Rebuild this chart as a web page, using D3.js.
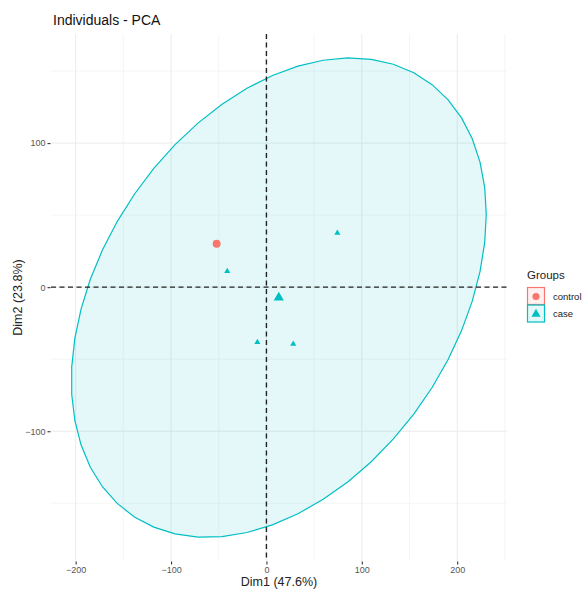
<!DOCTYPE html>
<html>
<head>
<meta charset="utf-8">
<script src="https://cdn.jsdelivr.net/npm/d3@7"></script>
<style>
  body { margin: 0; background: #fff; }
  svg { font-family: "Liberation Sans", Arial, sans-serif; }
</style>
</head>
<body>
<div id="chart"></div>
<script>
// individuals coordinates on the first two dimensions
var dim1 = [-52.2, -41.1, 74.4, -9.5, 28.1];
var dim2 = [30.2, 11.1, 37.6, -38.3, -39.4];
var groupOf = ["control", "case", "case", "case", "case"];

var groups = ["control", "case"];
var groupColors = ["#F8766D", "#00BFC4"];
var xTicks = [-200, -100, 0, 100, 200];
var yTicks = [-100, 0, 100];
var xMinor = [-250, -150, -50, 50, 150, 250];
var yMinor = [-150, -50, 50, 150];
var xTitle = "Dim1 (47.6%)";
var yTitle = "Dim2 (23.8%)";
var chartTitle = "Individuals - PCA";
var ellipseLevel = 0.95;

var width = 582, height = 594;
var panel = {left: 51, right: 507, top: 34, bottom: 561};

var points = dim1.map(function(d, i) { return {x: d, y: dim2[i], group: groupOf[i]}; });

var color = d3.scaleOrdinal().domain(groups).range(groupColors);
var shape = d3.scaleOrdinal().domain(groups).range([d3.symbolCircle, d3.symbolTriangle]);

// group means and normal ellipses (like stat_ellipse type = "norm")
var stats = groups.map(function(g) {
	var pts = points.filter(function(p) { return p.group == g; });
	var n = pts.length;
	var mx = d3.mean(pts, function(p) { return p.x; });
	var my = d3.mean(pts, function(p) { return p.y; });
	var ell = null;
	if (n >= 3) {
		var sxx = d3.sum(pts, function(p) { return (p.x - mx) * (p.x - mx); }) / (n - 1);
		var syy = d3.sum(pts, function(p) { return (p.y - my) * (p.y - my); }) / (n - 1);
		var sxy = d3.sum(pts, function(p) { return (p.x - mx) * (p.y - my); }) / (n - 1);
		var d2 = n - 1;
		var qf = (d2 / 2) * (Math.pow(1 - ellipseLevel, -2 / d2) - 1);
		var r = Math.sqrt(2 * qf);
		var a = Math.sqrt(sxx), b = sxy / a, c = Math.sqrt(syy - b * b);
		ell = d3.range(52).map(function(k) {
			var t = k / 51 * 2 * Math.PI;
			return [mx + r * a * Math.cos(t), my + r * (b * Math.cos(t) + c * Math.sin(t))];
		});
	}
	return {group: g, mx: mx, my: my, ellipse: ell};
});

var allX = points.map(function(p) { return p.x; });
var allY = points.map(function(p) { return p.y; });
stats.forEach(function(s) {
	if (s.ellipse) s.ellipse.forEach(function(e) { allX.push(e[0]); allY.push(e[1]); });
});
var xExt = d3.extent(allX), yExt = d3.extent(allY);
var xPad = (xExt[1] - xExt[0]) * 0.05, yPad = (yExt[1] - yExt[0]) * 0.05;

var xScale = d3.scaleLinear()
	.domain([xExt[0] - xPad, xExt[1] + xPad])
	.range([panel.left, panel.right]);
var yScale = d3.scaleLinear()
	.domain([yExt[0] - yPad, yExt[1] + yPad])
	.range([panel.bottom, panel.top]);

var svg = d3.select("#chart").append("svg")
	.attr("width", width)
	.attr("height", height);

// grid
var grid = svg.append("g");
grid.selectAll(".xminor").data(xMinor.filter(function(v) { return v > xScale.domain()[0] && v < xScale.domain()[1]; }))
	.enter().append("line")
	.attr("x1", xScale).attr("x2", xScale)
	.attr("y1", panel.top).attr("y2", panel.bottom)
	.attr("stroke", "#f0f0f0").attr("stroke-width", 0.7);
grid.selectAll(".yminor").data(yMinor)
	.enter().append("line")
	.attr("y1", yScale).attr("y2", yScale)
	.attr("x1", panel.left).attr("x2", panel.right)
	.attr("stroke", "#f0f0f0").attr("stroke-width", 0.7);
grid.selectAll(".xmajor").data(xTicks)
	.enter().append("line")
	.attr("x1", xScale).attr("x2", xScale)
	.attr("y1", panel.top).attr("y2", panel.bottom)
	.attr("stroke", "#ebebeb").attr("stroke-width", 1);
grid.selectAll(".ymajor").data(yTicks)
	.enter().append("line")
	.attr("y1", yScale).attr("y2", yScale)
	.attr("x1", panel.left).attr("x2", panel.right)
	.attr("stroke", "#ebebeb").attr("stroke-width", 1);

// ellipses
var line = d3.line()
	.x(function(d) { return xScale(d[0]); })
	.y(function(d) { return yScale(d[1]); });
svg.selectAll(".ellipse").data(stats.filter(function(s) { return s.ellipse; }))
	.enter().append("path")
	.attr("d", function(s) { return line(s.ellipse) + "Z"; })
	.attr("fill", function(s) { return color(s.group); })
	.attr("fill-opacity", 0.1)
	.attr("stroke", function(s) { return color(s.group); })
	.attr("stroke-width", 1.2);

// reference lines
svg.append("line")
	.attr("x1", xScale(0)).attr("x2", xScale(0))
	.attr("y1", panel.top).attr("y2", panel.bottom)
	.attr("stroke", "#222").attr("stroke-width", 1.4).attr("stroke-dasharray", "5,3.5");
svg.append("line")
	.attr("y1", yScale(0)).attr("y2", yScale(0))
	.attr("x1", panel.left).attr("x2", panel.right)
	.attr("stroke", "#222").attr("stroke-width", 1.4).attr("stroke-dasharray", "5,3.5");

// individuals
svg.selectAll(".pt").data(points)
	.enter().append("path")
	.attr("transform", function(p) { return "translate(" + xScale(p.x) + "," + yScale(p.y) + ")"; })
	.attr("d", function(p) { return d3.symbol().type(shape(p.group)).size(16)(); })
	.attr("fill", function(p) { return color(p.group); });

// group means
svg.selectAll(".mean").data(stats)
	.enter().append("path")
	.attr("transform", function(s) { return "translate(" + xScale(s.mx) + "," + yScale(s.my) + ")"; })
	.attr("d", function(s) { return d3.symbol().type(shape(s.group)).size(s.group == "case" ? 45 : 50)(); })
	.attr("fill", function(s) { return color(s.group); });

// axes
var xAxis = d3.axisBottom(xScale).tickValues(xTicks).tickSize(3).tickPadding(2);
var yAxis = d3.axisLeft(yScale).tickValues(yTicks).tickSize(3).tickPadding(2);
var gx = svg.append("g").attr("transform", "translate(0," + (panel.bottom + 0.5) + ")").call(xAxis);
var gy = svg.append("g").attr("transform", "translate(" + (panel.left - 0.5) + ",0)").call(yAxis);
[gx, gy].forEach(function(g) {
	g.select(".domain").remove();
	g.selectAll(".tick line").attr("stroke", "#333").attr("stroke-width", 1.1);
	g.selectAll(".tick text").attr("fill", "#555").style("font-size", "9px").style("font-family", "Liberation Sans, Arial, sans-serif");
});

// titles
svg.append("text")
	.attr("x", 53).attr("y", 25)
	.style("font-size", "14px").attr("fill", "#111")
	.text(chartTitle);
svg.append("text")
	.attr("x", (panel.left + panel.right) / 2).attr("y", 586)
	.attr("text-anchor", "middle")
	.style("font-size", "12.5px").attr("fill", "#222")
	.text(xTitle);
svg.append("text")
	.attr("transform", "translate(22," + ((panel.top + panel.bottom) / 2) + ") rotate(-90)")
	.attr("text-anchor", "middle")
	.style("font-size", "12.5px").attr("fill", "#222")
	.text(yTitle);

// legend
var legend = svg.append("g").attr("transform", "translate(527,279)");
legend.append("text")
	.attr("x", 0).attr("y", 0)
	.style("font-size", "11.5px").attr("fill", "#222")
	.text("Groups");
var keys = legend.selectAll(".key").data(groups)
	.enter().append("g")
	.attr("transform", function(d, i) { return "translate(0," + (8 + i * 17.5) + ")"; });
keys.append("rect")
	.attr("x", 0.5).attr("y", 0.5)
	.attr("width", 17).attr("height", 17)
	.attr("fill", function(d) { return color(d); })
	.attr("fill-opacity", 0.1)
	.attr("stroke", function(d) { return color(d); })
	.attr("stroke-width", 1.2);
keys.append("path")
	.attr("transform", "translate(9,9.5)")
	.attr("d", function(d) { return d3.symbol().type(shape(d)).size(d == "case" ? 36 : 40)(); })
	.attr("fill", function(d) { return color(d); });
keys.append("text")
	.attr("x", 26).attr("y", 12.5)
	.style("font-size", "9.5px").attr("fill", "#222")
	.text(function(d) { return d; });
</script>
</body>
</html>
